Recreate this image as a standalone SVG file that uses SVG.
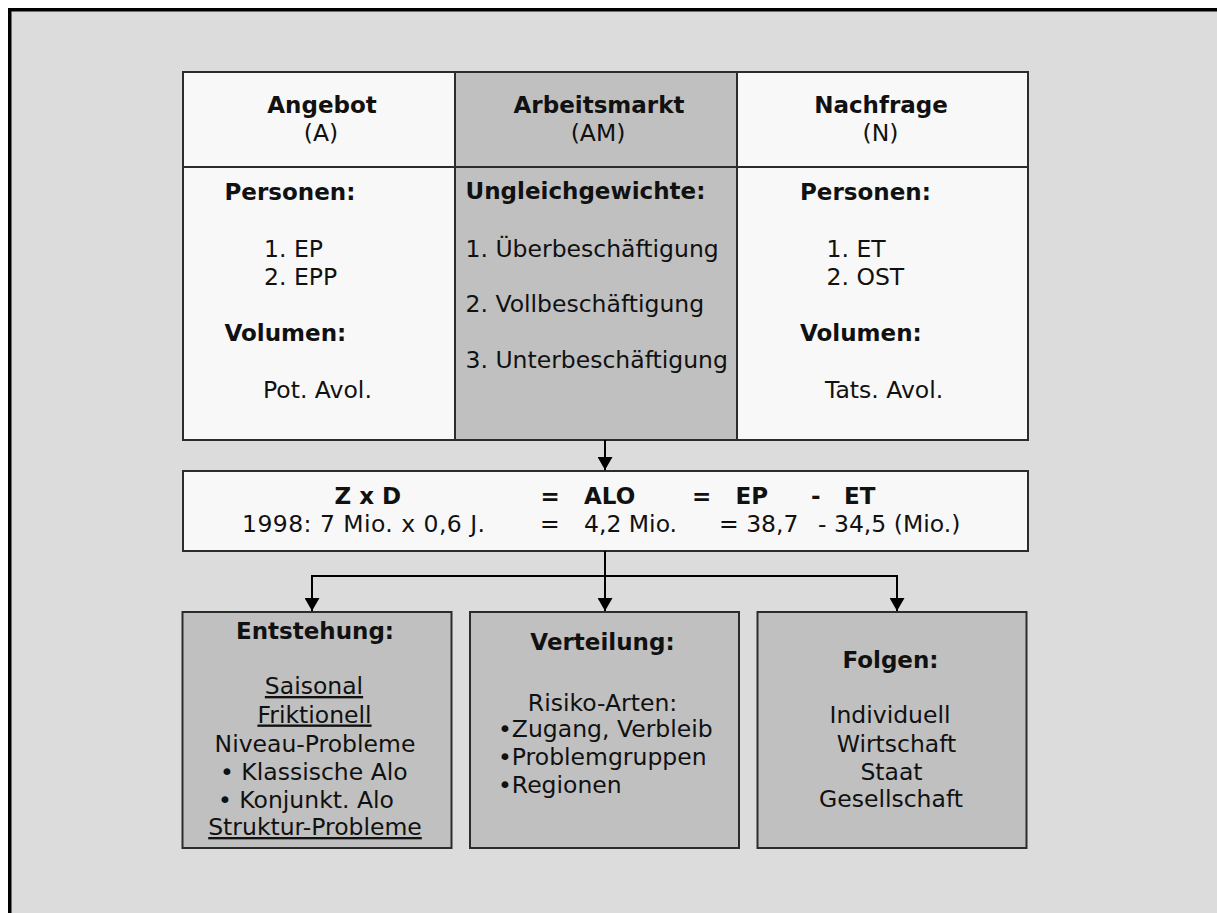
<svg xmlns="http://www.w3.org/2000/svg" width="1217" height="913" viewBox="0 0 1217 913">
  <style>
    text { font-family: "DejaVu Sans", Verdana, sans-serif; font-size: 23.5px; fill: #111; }
    .b { font-weight: bold; font-size: 23px; }
    .c { text-anchor: middle; }
    .u { text-decoration: underline; }
    .box { stroke: #2c2c2c; stroke-width: 2; }
    .white { fill: #f8f8f8; }
    .grey { fill: #c0c0c0; }
    .wire { stroke: #000; stroke-width: 2; fill: none; }
  </style>
  <defs>
    <marker id="head" markerUnits="userSpaceOnUse" markerWidth="13" markerHeight="15" viewBox="0 0 13 15" refX="13" refY="7.5" orient="auto">
      <path d="M0,0 L13,7.5 L0,15 z" fill="#000"/>
    </marker>
  </defs>

  <!-- page -->
  <rect x="0" y="0" width="1217" height="913" fill="#ffffff"/>
  <rect x="8" y="8" width="1209" height="905" fill="#dcdcdc"/>
  <rect x="8" y="8" width="1209" height="3.5" fill="#000"/>
  <rect x="8" y="8" width="3.5" height="905" fill="#000"/>

  <!-- labour market table -->
  <g id="angebot">
    <rect class="box white" x="183" y="72" width="272" height="368"/>
    <line class="box" x1="183" y1="167" x2="455" y2="167"/>
    <text class="b c" x="322" y="112.5">Angebot</text>
    <text class="c" x="321" y="141">(A)</text>
    <text class="b" x="224.5" y="200">Personen:</text>
    <text x="264" y="257">1. EP</text>
    <text x="264" y="285">2. EPP</text>
    <text class="b" x="224.5" y="341">Volumen:</text>
    <text x="263" y="398">Pot. Avol.</text>
  </g>

  <g id="arbeitsmarkt">
    <rect class="box grey" x="455" y="72" width="282" height="368"/>
    <line class="box" x1="455" y1="167" x2="737" y2="167"/>
    <text class="b c" x="599" y="112.5">Arbeitsmarkt</text>
    <text class="c" x="598" y="141">(AM)</text>
    <text class="b" x="465.5" y="199">Ungleichgewichte:</text>
    <text x="465.5" y="256.5">1. Überbeschäftigung</text>
    <text x="465.5" y="312">2. Vollbeschäftigung</text>
    <text x="465.5" y="368">3. Unterbeschäftigung</text>
  </g>

  <g id="nachfrage">
    <rect class="box white" x="737" y="72" width="291" height="368"/>
    <line class="box" x1="737" y1="167" x2="1028" y2="167"/>
    <text class="b c" x="881" y="112.5">Nachfrage</text>
    <text class="c" x="880.5" y="141">(N)</text>
    <text class="b" x="800" y="200">Personen:</text>
    <text x="826.5" y="257">1. ET</text>
    <text x="826.5" y="285">2. OST</text>
    <text class="b" x="800" y="341">Volumen:</text>
    <text x="825" y="398">Tats. Avol.</text>
  </g>

  <!-- unemployment identity -->
  <g id="formel">
    <rect class="box white" x="183" y="471" width="845" height="80"/>
    <text class="b" x="334.5" y="504">Z x D</text>
    <text class="b" x="540.5" y="504">=</text>
    <text class="b" x="584" y="504">ALO</text>
    <text class="b" x="692" y="504">=</text>
    <text class="b" x="735.5" y="504">EP</text>
    <text class="b" x="811" y="504">-</text>
    <text class="b" x="844" y="504">ET</text>
    <text x="242" y="532" textLength="243" lengthAdjust="spacing">1998: 7 Mio. x 0,6 J.</text>
    <text x="540" y="532">=</text>
    <text x="584" y="532">4,2 Mio.</text>
    <text x="719" y="532">= 38,7</text>
    <text x="818" y="532">- 34,5 (Mio.)</text>
  </g>

  <!-- connectors -->
  <g id="connectors">
    <line class="wire" x1="605" y1="440" x2="605" y2="470" marker-end="url(#head)"/>
    <line class="wire" x1="605" y1="551" x2="605" y2="611" marker-end="url(#head)"/>
    <line class="wire" x1="311" y1="576" x2="898" y2="576"/>
    <line class="wire" x1="312" y1="575" x2="312" y2="611" marker-end="url(#head)"/>
    <line class="wire" x1="897" y1="575" x2="897" y2="611" marker-end="url(#head)"/>
  </g>

  <!-- outcome boxes -->
  <g id="entstehung">
    <rect class="box grey" x="182.5" y="612" width="269" height="236"/>
    <text class="b c" x="315" y="639">Entstehung:</text>
    <text class="c u" x="314" y="694">Saisonal</text>
    <text class="c u" x="314.5" y="722.5">Friktionell</text>
    <text class="c" x="315" y="751.5">Niveau-Probleme</text>
    <text x="220" y="780">• Klassische Alo</text>
    <text x="218" y="807.5">• Konjunkt. Alo</text>
    <text class="c u" x="315" y="835">Struktur-Probleme</text>
  </g>

  <g id="verteilung">
    <rect class="box grey" x="470" y="612" width="269" height="236"/>
    <text class="b c" x="602.5" y="650">Verteilung:</text>
    <text class="c" x="602.5" y="710.5">Risiko-Arten:</text>
    <text x="498" y="737">•Zugang, Verbleib</text>
    <text x="498" y="765">•Problemgruppen</text>
    <text x="498" y="793">•Regionen</text>
  </g>

  <g id="folgen">
    <rect class="box grey" x="757.5" y="612" width="269" height="236"/>
    <text class="b c" x="890.5" y="668">Folgen:</text>
    <text class="c" x="890" y="723">Individuell</text>
    <text class="c" x="896.5" y="751.5">Wirtschaft</text>
    <text class="c" x="891.5" y="780">Staat</text>
    <text class="c" x="891" y="807">Gesellschaft</text>
  </g>
</svg>
